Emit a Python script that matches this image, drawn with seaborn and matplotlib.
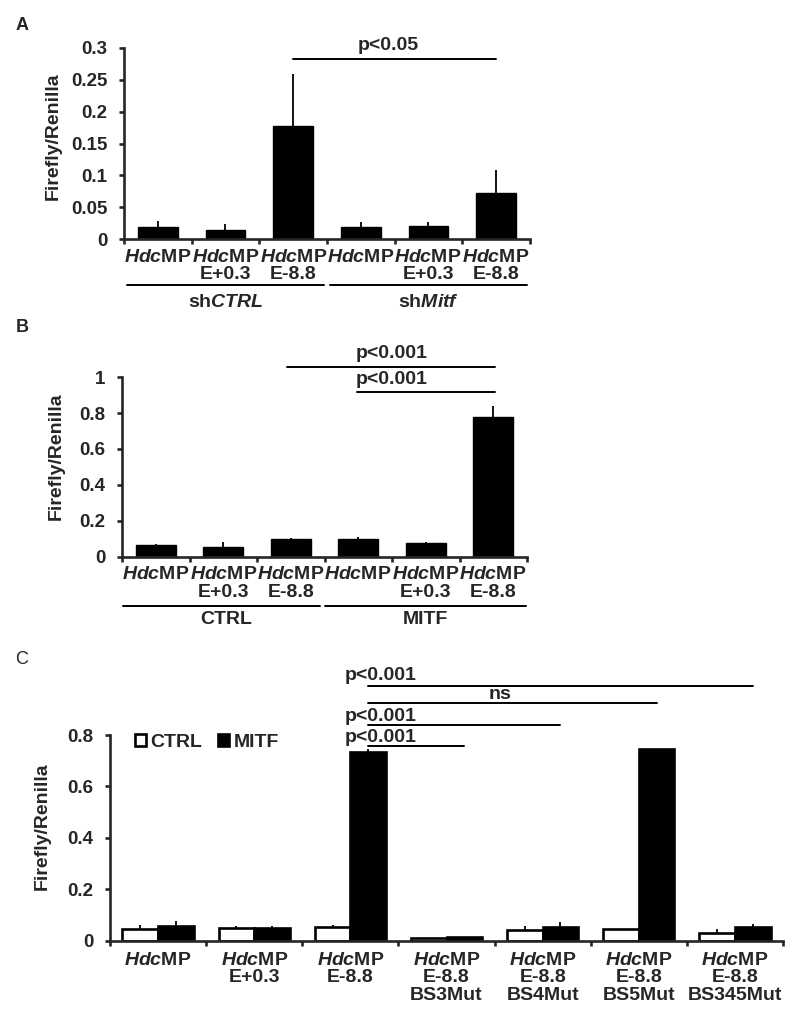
import numpy as np
import pandas as pd
import matplotlib
matplotlib.use("Agg")
import matplotlib.pyplot as plt
import seaborn as sns

sns.set_style("ticks")
plt.rcParams['font.family'] = ['Liberation Sans', 'DejaVu Sans']
plt.rcParams['mathtext.fontset'] = 'custom'
plt.rcParams['mathtext.it'] = 'Liberation Sans:italic:bold'
plt.rcParams['mathtext.rm'] = 'Liberation Sans:bold'
plt.rcParams['mathtext.bf'] = 'Liberation Sans:bold'
plt.rcParams['axes.linewidth'] = 1.9

# ---------------- data ----------------
labels_AB = [r"$\mathit{Hdc}$MP", r"$\mathit{Hdc}$MP" + "\nE+0.3", r"$\mathit{Hdc}$MP" + "\nE-8.8",
             r"$\mathit{Hdc}$MP ", r"$\mathit{Hdc}$MP " + "\nE+0.3", r"$\mathit{Hdc}$MP " + "\nE-8.8"]
groups_A = ["sh$\\mathit{CTRL}$", "sh$\\mathit{Mitf}$"]
vals_A = [0.019, 0.014, 0.178, 0.019, 0.020, 0.073]
err_A = [0.009, 0.009, 0.081, 0.007, 0.006, 0.036]
yticks_A = [0, 0.05, 0.1, 0.15, 0.2, 0.25, 0.3]
yticklabels_A = ["0", "0.05", "0.1", "0.15", "0.2", "0.25", "0.3"]

groups_B = ["CTRL", "MITF"]
vals_B = [0.064, 0.055, 0.100, 0.098, 0.077, 0.780]
err_B = [0.003, 0.025, 0.003, 0.011, 0.006, 0.060]
yticks_B = [0, 0.2, 0.4, 0.6, 0.8, 1.0]
yticklabels_B = ["0", "0.2", "0.4", "0.6", "0.8", "1"]

labels_C = [r"$\mathit{Hdc}$MP", r"$\mathit{Hdc}$MP" + "\nE+0.3", r"$\mathit{Hdc}$MP" + "\nE-8.8",
            r"$\mathit{Hdc}$MP" + "\nE-8.8\nBS3Mut", r"$\mathit{Hdc}$MP" + "\nE-8.8\nBS4Mut",
            r"$\mathit{Hdc}$MP" + "\nE-8.8\nBS5Mut", r"$\mathit{Hdc}$MP" + "\nE-8.8\nBS345Mut"]
conditions_C = ["CTRL", "MITF"]
ctrl_C = [0.044, 0.049, 0.055, 0.010, 0.042, 0.045, 0.031]
ctrl_err_C = [0.017, 0.008, 0.007, 0.002, 0.016, 0.002, 0.013]
mitf_C = [0.058, 0.049, 0.735, 0.014, 0.054, 0.745, 0.052]
mitf_err_C = [0.019, 0.008, 0.010, 0.002, 0.020, 0.002, 0.012]
yticks_C = [0, 0.2, 0.4, 0.6, 0.8]
yticklabels_C = ["0", "0.2", "0.4", "0.6", "0.8"]

FS = 14
FSY = 13.5
W, H = 800, 1015
fig = plt.figure(figsize=(W / 100, H / 100), dpi=100)


def axes_px(left, top, right, bottom):
    return fig.add_axes([left / W, 1 - bottom / H, (right - left) / W, (bottom - top) / H])


def style_axes(ax, n, yticks, yticklabels, ylim, label_x, label_y):
    sns.despine(ax=ax)
    ax.set_xlim(-0.5, n - 0.5)
    ax.set_ylim(*ylim)
    ax.set_yticks(yticks)
    ax.set_yticklabels(yticklabels, fontsize=FSY, fontweight='bold')
    ax.set_xticks(np.arange(-0.5, n + 0.5, 1), minor=True)
    ax.tick_params(axis='x', which='major', length=0, pad=7)
    ax.tick_params(axis='x', which='minor', length=3.8, width=1.9, direction='out')
    ax.tick_params(axis='y', which='major', length=3.8, width=1.9, direction='out', pad=8,
                   labelsize=FSY)
    ax.set_xlabel("")
    ax.set_ylabel("Firefly/Renilla", fontsize=14, fontweight='bold', va='center')
    ax.yaxis.set_label_coords(label_x, label_y)
    ax.set_facecolor('white')


def bracket(ax, x1, x2, y, text, tx, ty):
    ax.plot([x1, x2], [y, y], color='black', lw=1.4, clip_on=False)
    ax.text(tx, ty, text, ha='center', va='center', fontsize=FS, fontweight='bold', clip_on=False)


def group_lines(ax, spans, names, centers, yline, ytext):
    tr = ax.get_xaxis_transform()
    for (a, b), name, c in zip(spans, names, centers):
        ax.plot([a, b], [yline, yline], color='black', lw=1.4, transform=tr, clip_on=False)
        ax.text(c, ytext, name, transform=tr, ha='center', va='center',
                fontsize=FS, fontweight='bold')


# ---------------- panel A ----------------
axA = axes_px(124, 48, 530, 239)
dfA = pd.DataFrame({"construct": labels_AB, "value": vals_A})
sns.barplot(data=dfA, x="construct", y="value", color="black", edgecolor="black",
            linewidth=1, width=0.59, errorbar=None, ax=axA, saturation=1)
axA.errorbar(np.arange(6), vals_A, yerr=[np.zeros(6), err_A], fmt='none',
             ecolor='black', elinewidth=1.3, capsize=0)
style_axes(axA, 6, yticks_A, yticklabels_A, (0, 0.3), -0.175, 0.54)
axA.set_xticks(np.arange(6))
axA.set_xticklabels(labels_AB, fontsize=FS, fontweight='bold', linespacing=1.05)
group_lines(axA, [(-0.45, 2.45), (2.55, 5.45)], groups_A, [1.0, 4.0], -0.241, -0.335)
bracket(axA, 2.0, 5.0, 0.283, "p<0.05", 3.4, 0.304)

# ---------------- panel B ----------------
axB = axes_px(122, 377.3, 527, 556.5)
dfB = pd.DataFrame({"construct": labels_AB, "value": vals_B})
sns.barplot(data=dfB, x="construct", y="value", color="black", edgecolor="black",
            linewidth=1, width=0.59, errorbar=None, ax=axB, saturation=1)
axB.errorbar(np.arange(6), vals_B, yerr=[np.zeros(6), err_B], fmt='none',
             ecolor='black', elinewidth=1.3, capsize=0)
style_axes(axB, 6, yticks_B, yticklabels_B, (0, 1.0), -0.163, 0.56)
axB.set_xticks(np.arange(6))
axB.set_xticklabels(labels_AB, fontsize=FS, fontweight='bold', linespacing=1.05)
group_lines(axB, [(-0.48, 2.43), (2.51, 5.48)], groups_B, [1.05, 4.0], -0.276, -0.354)
bracket(axB, 1.95, 5.02, 1.056, "p<0.001", 3.5, 1.135)
bracket(axB, 2.98, 5.02, 0.92, "p<0.001", 3.5, 0.985)

# ---------------- panel C ----------------
axC = axes_px(110, 735, 783, 940.7)
dfC = pd.DataFrame({
    "construct": labels_C * 2,
    "condition": [conditions_C[0]] * 7 + [conditions_C[1]] * 7,
    "value": ctrl_C + mitf_C,
})
sns.barplot(data=dfC, x="construct", y="value", hue="condition",
            palette={"CTRL": "white", "MITF": "black"}, edgecolor="black",
            linewidth=1.9, width=0.74, errorbar=None, ax=axC, saturation=1, legend=False)
bars = axC.patches[:14]
xs = [b.get_x() + b.get_width() / 2 for b in bars]
tops = [b.get_height() for b in bars]
axC.errorbar(xs, tops, yerr=[np.zeros(14), ctrl_err_C + mitf_err_C], fmt='none',
             ecolor='black', elinewidth=1.3, capsize=0)
style_axes(axC, 7, yticks_C, yticklabels_C, (0, 0.8), -0.101, 0.557)
axC.set_xticks(np.arange(7))
axC.set_xticklabels(labels_C, fontsize=FS, fontweight='bold', linespacing=1.05, va='top')
axC.tick_params(axis='x', which='major', pad=8)
leg = axC.legend([bars[0], bars[7]], conditions_C, ncol=2, frameon=False,
                 loc='center left', bbox_to_anchor=(0.037, 0.963), borderaxespad=0,
                 borderpad=0, handlelength=0.55, handleheight=0.55, handletextpad=0.25,
                 columnspacing=0.8, prop={'size': FS, 'weight': 'bold'})
xm = xs[7:]
bracket(axC, xm[2], xm[6], 0.992, "p<0.001", 2.31, 1.033)
bracket(axC, xm[2], xm[5], 0.923, "ns", 3.56, 0.956)
bracket(axC, xm[2], xm[4], 0.839, "p<0.001", 2.31, 0.871)
bracket(axC, xm[2], xm[3], 0.758, "p<0.001", 2.31, 0.792)

# panel letters
fig.text(22 / W, 1 - 25 / H, "A", ha='center', va='center', fontsize=13, fontweight='bold')
fig.text(22 / W, 1 - 328 / H, "B", ha='center', va='center', fontsize=13, fontweight='bold')
fig.text(22 / W, 1 - 660 / H, "C", ha='center', va='center', fontsize=13)

fig.savefig("out.png", dpi=100, facecolor='white')
